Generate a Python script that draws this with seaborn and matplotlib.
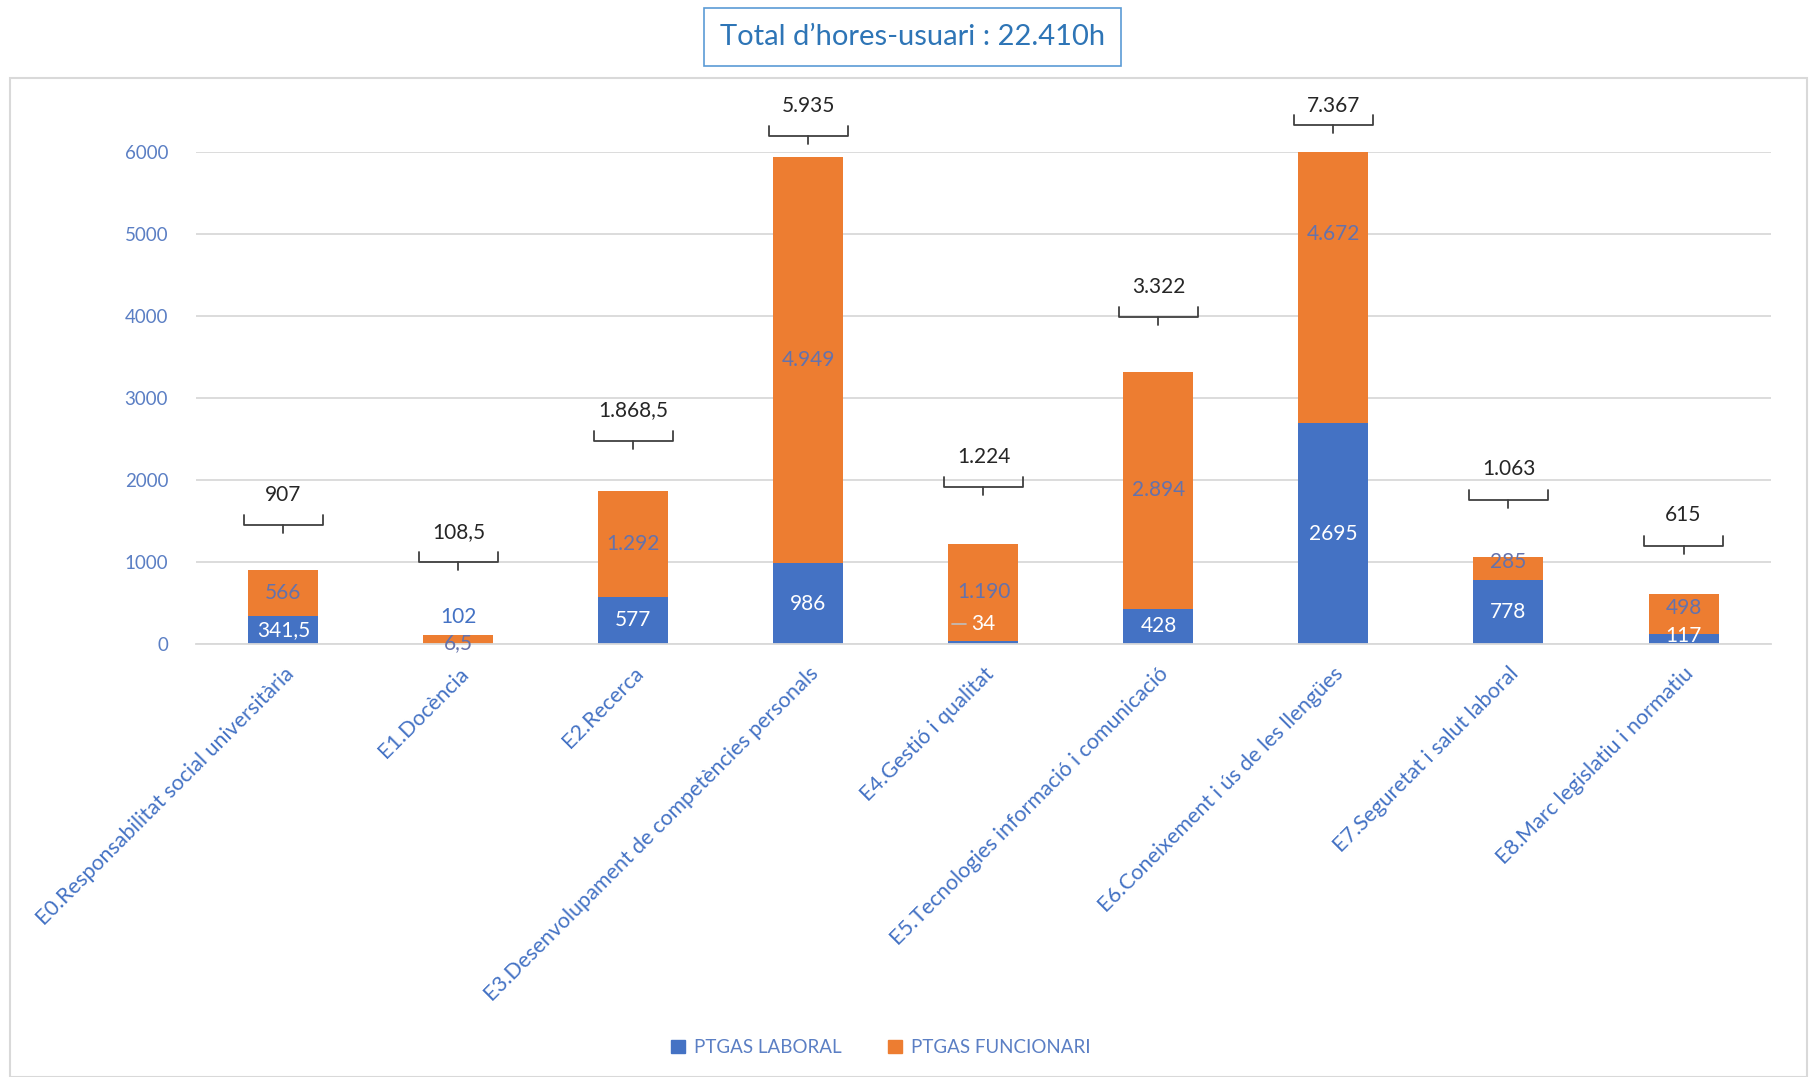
import matplotlib
matplotlib.use("Agg")
import matplotlib.pyplot as plt
import seaborn as sns
import pandas as pd
from matplotlib.patches import Patch, Rectangle

categories = [
    "E0.Responsabilitat social universitària",
    "E1.Docència",
    "E2.Recerca",
    "E3.Desenvolupament de competències personals",
    "E4.Gestió i qualitat",
    "E5.Tecnologies informació i comunicació",
    "E6.Coneixement i ús de les llengües",
    "E7.Seguretat i salut laboral",
    "E8.Marc legislatiu i normatiu",
]
laboral = [341.5, 6.5, 577, 986, 34, 428, 2695, 778, 117]
funcionari = [566, 102, 1292, 4949, 1190, 2894, 4672, 285, 498]
laboral_txt = ["341,5", "6,5", "577", "986", "34", "428", "2695", "778", "117"]
funcionari_txt = ["566", "102", "1.292", "4.949", "1.190", "2.894", "4.672", "285", "498"]
total_txt = ["907", "108,5", "1.868,5", "5.935", "1.224", "3.322", "7.367", "1.063", "615"]
title_txt = "Total d\u2019hores-usuari : 22.410h"

BLUE = "#4472C4"
ORANGE = "#ED7D31"
TICK_BLUE = "#5B7FC4"
SEG_TXT = "#6472AC"

sns.set_style("white")
plt.rcParams["font.family"] = ["Lato", "DejaVu Sans"]

df = pd.DataFrame({"cat": categories, "lab": laboral, "fun": funcionari})
df["tot"] = df["lab"] + df["fun"]

fig = plt.figure(figsize=(18.09, 10.77), dpi=100)
# outer chart frame and title box
fig.patches.append(Rectangle((10 / 1809, 0), 1 - 10 / 1809 - 0.001, 1 - 78 / 1077,
                             transform=fig.transFigure, fill=False,
                             edgecolor="#d9d9d9", lw=1.5))
fig.text(0.5045, 0.966, title_txt, ha="center", va="center", fontsize=21,
         color="#2E75B6",
         bbox=dict(boxstyle="square,pad=0.55", fc="white", ec="#5B9BD5", lw=1.2))

ax = fig.add_axes([0.1083, 0.402, 0.8707, 0.457])
sns.barplot(data=df, x="cat", y="tot", color=ORANGE, width=0.4, saturation=1,
            linewidth=0, ax=ax)
sns.barplot(data=df, x="cat", y="lab", color=BLUE, width=0.4, saturation=1,
            linewidth=0, ax=ax)

ax.set_ylim(0, 6000)
ax.set_xlim(-0.5, 8.5)
ax.set_yticks(range(0, 6001, 1000))
ax.yaxis.grid(True, color="#d9d9d9", lw=1.3)
ax.set_axisbelow(True)
for s in ["top", "right", "left"]:
    ax.spines[s].set_visible(False)
ax.spines["bottom"].set_color("#d9d9d9")
ax.spines["bottom"].set_linewidth(1.3)
ax.tick_params(axis="both", length=0)
ax.tick_params(axis="y", pad=20, labelsize=13.5, labelcolor=TICK_BLUE)
ax.set_xticks(range(len(categories)))
ax.set_xticklabels(categories, rotation=45, ha="right", rotation_mode="anchor",
                   fontsize=15.5, color=BLUE)
ax.tick_params(axis="x", pad=14)
ax.set_xlabel("")
ax.set_ylabel("")

# segment labels (y positions: middle of visible segment, some nudged as in source)
lab_y = [l / 2 for l in laboral]
fun_y = [l + min(f, 6000 - l) / 2 for l, f in zip(laboral, funcionari)]
lab_y[1], fun_y[1] = 15, 330
lab_y[4] = 250
fun_y[6] = 5000
fun_y[7] = 1000
lab_y[8], fun_y[8] = 95, 440
lab_col = ["white"] * 9
lab_col[1] = SEG_TXT
fun_col = [SEG_TXT] * 9
fun_col[1] = BLUE
for i in range(len(categories)):
    ax.text(i, lab_y[i], laboral_txt[i], ha="center", va="center", fontsize=15,
            color=lab_col[i])
    ax.text(i, fun_y[i], funcionari_txt[i], ha="center", va="center", fontsize=15,
            color=fun_col[i])
ax.plot([4 - 0.18, 4 - 0.1], [250, 250], color="#bfbfbf", lw=1.2)

# totals with braces
brace_y = [1450, 1000, 2480, 6195, 1915, 3985, 6330, 1760, 1200]
text_y = [b + 370 for b in brace_y]
text_y[6] = text_y[3]
for i, yb in enumerate(brace_y):
    hw, arm, tick = 0.225, 120, 100
    ax.plot([i - hw, i - hw, i + hw, i + hw], [yb + arm, yb, yb, yb + arm],
            color="#404040", lw=1.3, clip_on=False, solid_joinstyle="round")
    ax.plot([i, i], [yb, yb - tick], color="#404040", lw=1.3, clip_on=False)
    ax.text(i, text_y[i], total_txt[i], ha="center", va="center", fontsize=15,
            color="#262626", clip_on=False)

handles = [Patch(color=BLUE, label="PTGAS LABORAL"),
           Patch(color=ORANGE, label="PTGAS FUNCIONARI")]
leg = fig.legend(handles=handles, loc="center", bbox_to_anchor=(0.487, 0.027),
                 ncol=2, frameon=False, fontsize=13.5, handlelength=0.7,
                 handleheight=0.7, columnspacing=2.5, handletextpad=0.5)
for t in leg.get_texts():
    t.set_color(TICK_BLUE)

fig.savefig("out.png", dpi=100)
